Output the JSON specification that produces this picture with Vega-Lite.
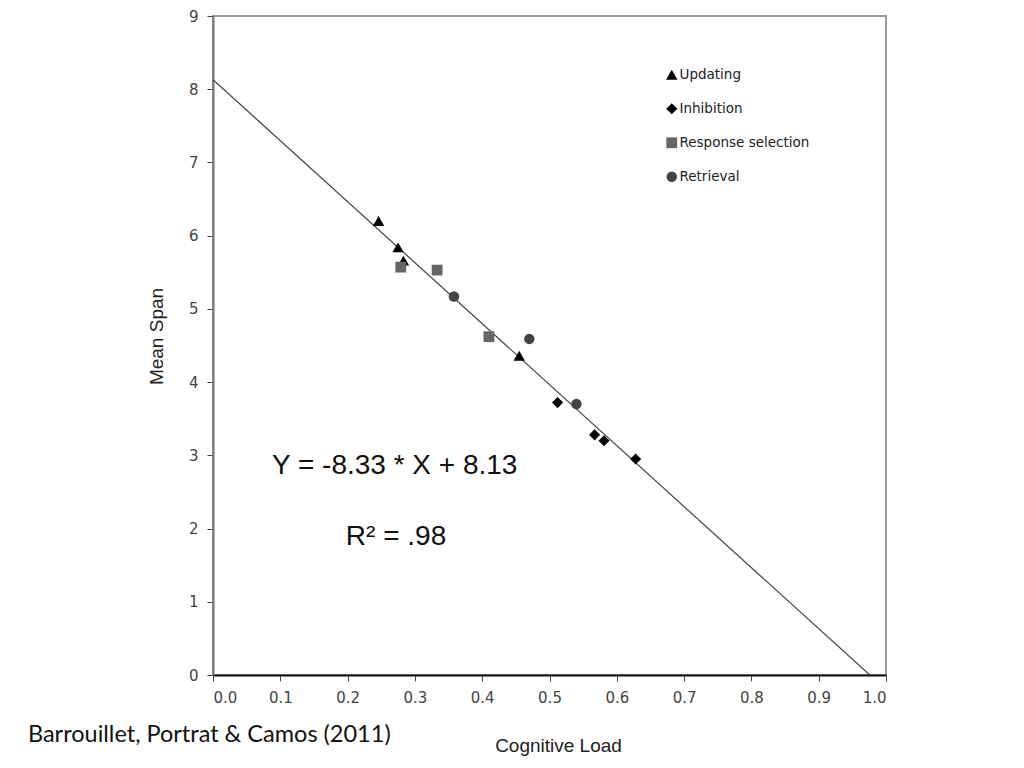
{
  "$schema": "https://vega.github.io/schema/vega-lite/v6.json",
  "width": 673,
  "height": 659,
  "autosize": "none",
  "padding": {"left": 213, "top": 16, "right": 138, "bottom": 93},
  "background": "white",
  "config": {
    "view": {"stroke": "#9a9a9a", "strokeWidth": 2},
    "axis": {"grid": false, "labelFont": "DejaVu Sans", "labelFontSize": 15, "labelColor": "#444", "tickColor": "#444", "titleColor": "#222", "titleFontWeight": "normal"},
    "legend": {"orient": "none", "legendX": 452, "legendY": 52, "labelFont": "DejaVu Sans", "labelFontSize": 13.5, "labelColor": "#222", "rowPadding": 19, "symbolSize": 50, "labelOffset": 1}
  },
  "layer": [
    {
      "data": {"values": [{"x": 0, "y": 8.13}, {"x": 0.976, "y": 0}]},
      "mark": {"type": "line", "color": "#444", "strokeWidth": 1.2, "clip": true},
      "encoding": {
        "x": {"field": "x", "type": "quantitative", "scale": {"domain": [0, 1], "nice": false, "zero": false},
          "axis": {"title": "Cognitive Load", "format": ".1f", "values": [0, 0.1, 0.2, 0.3, 0.4, 0.5, 0.6, 0.7, 0.8, 0.9, 1.0], "domainColor": "#111", "domainWidth": 1.8, "tickSize": 6, "labelPadding": 9, "titleFont": "Liberation Sans", "titleFontSize": 19, "titlePadding": 31, "titleX": 345}},
        "y": {"field": "y", "type": "quantitative", "scale": {"domain": [0, 9], "nice": false},
          "axis": {"title": "Mean Span", "format": "d", "values": [0, 1, 2, 3, 4, 5, 6, 7, 8, 9], "domainColor": "#777", "domainWidth": 2, "tickSize": 6, "labelPadding": 9, "titleFont": "Liberation Sans", "titleFontSize": 19, "titlePadding": 22, "titleY": 320}}
      }
    },
    {
      "mark": {"type": "rule", "color": "#111", "strokeWidth": 2},
      "encoding": {"y": {"datum": 9}}
    },
    {
      "data": {"values": [
        {"series": "Updating", "load": 0.246, "span": 6.2},
        {"series": "Updating", "load": 0.275, "span": 5.84},
        {"series": "Updating", "load": 0.283, "span": 5.66},
        {"series": "Updating", "load": 0.455, "span": 4.36},
        {"series": "Inhibition", "load": 0.512, "span": 3.72},
        {"series": "Inhibition", "load": 0.567, "span": 3.28},
        {"series": "Inhibition", "load": 0.581, "span": 3.2},
        {"series": "Inhibition", "load": 0.628, "span": 2.95},
        {"series": "Response selection", "load": 0.279, "span": 5.57},
        {"series": "Response selection", "load": 0.333, "span": 5.53},
        {"series": "Response selection", "load": 0.41, "span": 4.62},
        {"series": "Retrieval", "load": 0.358, "span": 5.17},
        {"series": "Retrieval", "load": 0.47, "span": 4.59},
        {"series": "Retrieval", "load": 0.54, "span": 3.7}
      ]},
      "mark": {"type": "point", "filled": true, "opacity": 1},
      "encoding": {
        "x": {"field": "load", "type": "quantitative"},
        "y": {"field": "span", "type": "quantitative"},
        "shape": {"field": "series", "type": "nominal", "title": null,
          "scale": {"domain": ["Updating", "Inhibition", "Response selection", "Retrieval"], "range": ["triangle-up", "diamond", "square", "circle"]}},
        "color": {"field": "series", "type": "nominal", "title": null,
          "scale": {"domain": ["Updating", "Inhibition", "Response selection", "Retrieval"], "range": ["#000000", "#000000", "#666666", "#444444"]}},
        "size": {"field": "series", "type": "nominal", "title": null,
          "scale": {"domain": ["Updating", "Inhibition", "Response selection", "Retrieval"], "range": [130, 110, 50, 120]}}
      }
    },
    {
      "data": {"values": [
        {"label": "Y = -8.33 * X + 8.13", "lx": 0.27, "ly": 2.85},
        {"label": "R² = .98", "lx": 0.272, "ly": 1.89}
      ]},
      "mark": {"type": "text", "font": "Liberation Sans", "fontSize": 28, "color": "#111", "align": "center", "baseline": "middle"},
      "encoding": {
        "x": {"field": "lx", "type": "quantitative"},
        "y": {"field": "ly", "type": "quantitative"},
        "text": {"field": "label"}
      }
    },
    {
      "data": {"values": [{"label": "Barrouillet, Portrat & Camos (2011)", "lx": -0.275, "ly": -0.82}]},
      "mark": {"type": "text", "font": "Lato", "fontSize": 23.5, "color": "#111", "align": "left", "baseline": "middle", "clip": false},
      "encoding": {
        "x": {"field": "lx", "type": "quantitative"},
        "y": {"field": "ly", "type": "quantitative"},
        "text": {"field": "label"}
      }
    }
  ]
}
